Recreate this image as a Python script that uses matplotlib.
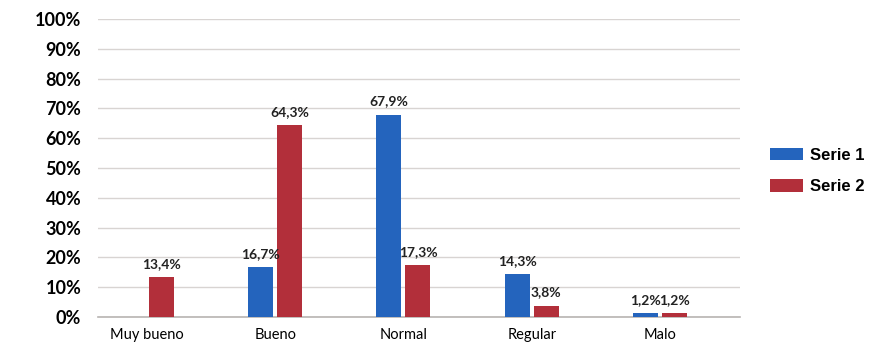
import matplotlib.pyplot as plt
import numpy as np

categories = ["Muy bueno", "Bueno", "Normal", "Regular", "Malo"]
serie_1 = [0.0, 16.7, 67.9, 14.3, 1.2]
serie_2 = [13.4, 64.3, 17.3, 3.8, 1.2]
series_names = ["Serie 1", "Serie 2"]
y_ticks = list(range(0, 101, 10))

blue = "#2464bd"
red = "#b22f3a"

fig = plt.figure(figsize=(8.86, 3.42), dpi=100)
ax = fig.add_axes([98 / 886, 25 / 342, 642 / 886, 298 / 342])

x = np.arange(len(categories))
width = 0.195
offset = 0.113

bars_1 = ax.bar(x - offset, serie_1, width, color=blue, label=series_names[0], zorder=3)
bars_2 = ax.bar(x + offset, serie_2, width, color=red, label=series_names[1], zorder=3)

# value labels above each bar (no label for the empty one)
for bars, values in ((bars_1, serie_1), (bars_2, serie_2)):
    for b, v in zip(bars, values):
        if v == 0:
            continue
        ax.text(b.get_x() + b.get_width() / 2, v + 2.5, f"{v:.1f}%".replace(".", ","),
                ha="center", va="bottom", fontsize=10, fontweight="bold",
                family="Lato", color="#222222")

ax.set_xlim(-0.382, 4.624)
ax.set_ylim(0, 100)
ax.set_yticks(y_ticks)
ax.set_yticklabels([f"{t}%" for t in y_ticks], fontsize=13, fontweight="bold", family="Lato")
ax.set_xticks(x)
ax.set_xticklabels(categories, fontsize=10.5, family="Lato")
ax.tick_params(axis="both", length=0)
ax.tick_params(axis="y", pad=12)
ax.tick_params(axis="x", pad=8)

ax.grid(axis="y", color="#d8d4d2", linewidth=1, zorder=0)
for side in ["top", "right", "left"]:
    ax.spines[side].set_visible(False)
ax.spines["bottom"].set_color("#b8b4b2")
ax.spines["bottom"].set_linewidth(1.2)

fig.legend(handles=[bars_1, bars_2], labels=series_names, loc="center left",
           bbox_to_anchor=(770 / 886, 1 - 171 / 342), frameon=False, borderpad=0,
           borderaxespad=0,
           prop={"family": "Liberation Sans", "weight": "bold", "size": 12},
           handlelength=1.95, handleheight=0.75, handletextpad=0.45, labelspacing=1.0)

plt.savefig("out.png", dpi=100)
plt.close()
